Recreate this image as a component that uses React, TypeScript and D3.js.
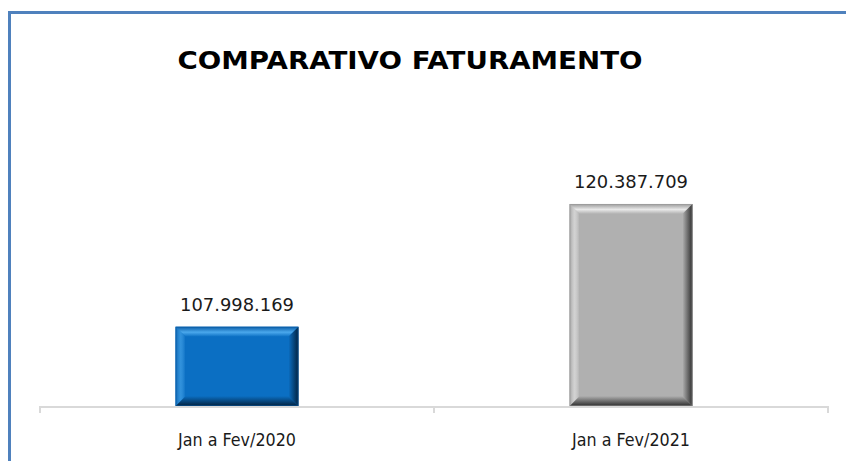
import * as d3 from 'd3';

// comparativo de faturamento, dois períodos
const categories = ['Jan a Fev/2020', 'Jan a Fev/2021'];
const values = [107998169, 120387709];
const yDomain = [100000000, 122000000];

const W = 846;
const H = 461;

const PAL = [
  { face: '#0b6fc3', light: '#4aa8ec', edge: '#0a5da8', dark: '#02223f', side: '#0a63b0' },
  { face: '#b0b0b0', light: '#e8e8e8', edge: '#9a9a9a', dark: '#2e2e2e', side: '#a0a0a0' },
];

const fmt = d3.formatLocale({ decimal: ',', thousands: '.', grouping: [3], currency: ['R$', ''] }).format(',d');

export default function App() {
  const margin = { left: 40, right: 18, top: 188, bottom: 55 };
  const x = d3.scaleBand<string>()
    .domain(categories)
    .range([margin.left, W - margin.right])
    .paddingInner(0.688)
    .paddingOuter(0.344);
  const y = d3.scaleLinear().domain(yDomain).range([H - margin.bottom, margin.top]);
  const base = y(yDomain[0]);
  const b = 10; // largura do chanfro

  return (
    <svg width={W} height={H} style={{ position: 'absolute', left: 0, top: 0, background: '#fff' }}
      fontFamily="'DejaVu Sans', sans-serif">
      <defs>
        {PAL.map((p, i) => (
          <g key={i}>
            <linearGradient id={`top${i}`} x1="0" y1="0" x2="0" y2="1">
              <stop offset="0" stopColor={p.edge} />
              <stop offset="0.55" stopColor={p.light} />
              <stop offset="1" stopColor={p.face} />
            </linearGradient>
            <linearGradient id={`bot${i}`} x1="0" y1="0" x2="0" y2="1">
              <stop offset="0" stopColor={p.face} />
              <stop offset="1" stopColor={p.dark} />
            </linearGradient>
            <linearGradient id={`rgt${i}`} x1="0" y1="0" x2="1" y2="0">
              <stop offset="0" stopColor={p.face} />
              <stop offset="1" stopColor={p.dark} />
            </linearGradient>
            <linearGradient id={`lft${i}`} x1="0" y1="0" x2="1" y2="0">
              <stop offset="0" stopColor={p.side} />
              <stop offset="0.5" stopColor={p.light} stopOpacity="0.6" />
              <stop offset="1" stopColor={p.face} />
            </linearGradient>
          </g>
        ))}
      </defs>

      {/* moldura */}
      <line x1={9.5} y1={12.5} x2={W} y2={12.5} stroke="#4f81bd" strokeWidth={3} />
      <line x1={9.5} y1={11} x2={9.5} y2={H} stroke="#4f81bd" strokeWidth={3} />

      <text x={410} y={69} textAnchor="middle" fontSize={25} fontWeight="bold" fill="#000"
        textLength={465} lengthAdjust="spacingAndGlyphs">
        COMPARATIVO FATURAMENTO
      </text>

      {categories.map((c, i) => {
        const x0 = x(c)!;
        const x1 = x0 + x.bandwidth();
        const y0 = y(values[i]);
        const y1 = base;
        const p = PAL[i];
        const pts = (a: number[][]) => a.map(q => q.join(',')).join(' ');
        return (
          <g key={c}>
            <rect x={x0} y={y0} width={x1 - x0} height={y1 - y0} fill={p.face} />
            <polygon points={pts([[x0, y0], [x1, y0], [x1 - b, y0 + b], [x0 + b, y0 + b]])} fill={`url(#top${i})`} />
            <polygon points={pts([[x0, y1], [x1, y1], [x1 - b, y1 - b], [x0 + b, y1 - b]])} fill={`url(#bot${i})`} />
            <polygon points={pts([[x0, y0], [x0 + b, y0 + b], [x0 + b, y1 - b], [x0, y1]])} fill={`url(#lft${i})`} />
            <polygon points={pts([[x1, y0], [x1 - b, y0 + b], [x1 - b, y1 - b], [x1, y1]])} fill={`url(#rgt${i})`} />
            <rect x={x0 + 0.5} y={y0 + 0.5} width={x1 - x0 - 1} height={y1 - y0 - 1} fill="none" stroke={p.edge} strokeOpacity={0.5} />
            <text x={x0 + x.bandwidth() / 2} y={y0 - 16} textAnchor="middle" fontSize={18} fill="#1a1a1a"
              textLength={114} lengthAdjust="spacingAndGlyphs">
              {fmt(values[i])}
            </text>
            <text x={x0 + x.bandwidth() / 2} y={446} textAnchor="middle" fontSize={18} fill="#1a1a1a"
              textLength={118} lengthAdjust="spacingAndGlyphs">
              {c}
            </text>
          </g>
        );
      })}

      {/* eixo x */}
      <line x1={margin.left} y1={base + 1} x2={W - margin.right} y2={base + 1} stroke="#d9d9d9" strokeWidth={2} />
      {[margin.left, (margin.left + W - margin.right) / 2, W - margin.right].map((t, i) => (
        <line key={i} x1={t} y1={base} x2={t} y2={base + 7} stroke="#d9d9d9" strokeWidth={2} />
      ))}
    </svg>
  );
}
